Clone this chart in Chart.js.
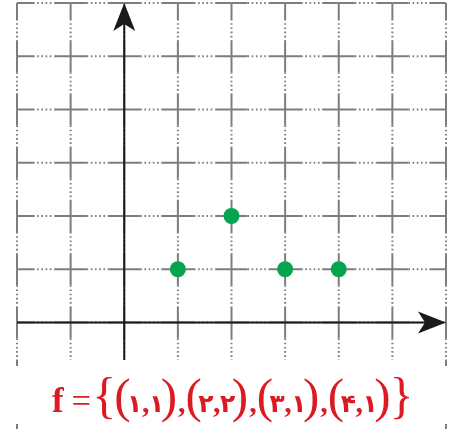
<!DOCTYPE html>
<html>
<head>
<meta charset="utf-8">
<script src="https://cdn.jsdelivr.net/npm/chart.js@4/dist/chart.umd.min.js"></script>
<style>
  html, body { margin: 0; padding: 0; background: #fff; }
  #wrap { position: relative; width: 451px; height: 430px; overflow: hidden; }
  #formula {
    position: absolute; left: 0; top: 366px; width: 451px; height: 58px;
    background: #fff; color: #dc1a22;
    font-family: "Liberation Serif", "DejaVu Serif", serif;
    white-space: nowrap; line-height: 58px;
  }
  #formula .row { position: absolute; left: 52px; top: 0; }
  #formula span { display: inline-block; vertical-align: baseline; }
  #formula .fn { font-size: 35px; font-weight: bold; }
  #formula .eq { font-size: 33px; margin-left: 8px; transform: scaleX(1.05); }
  #formula .br { font-size: 50px; margin-left: 2px; }
  #formula .br.close { margin-left: 1px; }
  #formula .pa { font-size: 49px; margin: 0 -2px; }
  #formula .dg { font-family: "DejaVu Sans", sans-serif; font-weight: bold; font-size: 25px; margin: 0 -1.5px; }
  #formula .cm { font-size: 30px; font-weight: bold; margin: 0 1px; }
  #formula .sep { margin: 0 2px 0 3px; }
</style>
</head>
<body>
<div id="wrap">
  <canvas id="c" width="451" height="430"></canvas>
  <div id="formula"><div class="row"></div></div>
</div>
<script>
// Ordered pairs of the function f
const xValues = [1, 2, 3, 4];
const yValues = [1, 2, 1, 1];

// Coordinate plane extent (one grid cell per unit)
const xRange = [-2, 6];
const yRange = [-2, 6];

const persianDigits = ['۰', '۱', '۲', '۳', '۴', '۵', '۶', '۷', '۸', '۹'];
const toPersian = n => String(n).split('').map(ch => persianDigits[+ch] ?? ch).join('');

// Formula line: f = {(x,y), ...}
(function buildFormula() {
  const el = document.querySelector('#formula .row');
  const span = (cls, txt) => `<span class="${cls}">${txt}</span>`;
  let html = span('fn', 'f') + span('eq', '=') + span('br', '{');
  xValues.forEach((x, i) => {
    if (i > 0) html += span('cm sep', ',');
    html += span('pa', '(') + span('dg', toPersian(x)) + span('cm', ',') +
            span('dg', toPersian(yValues[i])) + span('pa', ')');
  });
  html += span('br close', '}');
  el.innerHTML = html;
})();

// Grid with solid strokes near each crossing and dotted strokes between them,
// plus the two arrowed axes.
const planePlugin = {
  id: 'plane',
  beforeDatasetsDraw(chart) {
    const { ctx, chartArea: a, scales: { x, y } } = chart;
    const solid = 16;
    const gridColor = '#7d7d7d';
    const interiorBottom = 360;
    const dots = [1.6, 2.6];

    function segLine(x1, y1, x2, y2, dash) {
      if (x2 - x1 <= 0 && y2 - y1 <= 0) return;
      ctx.save();
      ctx.setLineDash(dash);
      ctx.beginPath();
      ctx.moveTo(x1, y1);
      ctx.lineTo(x2, y2);
      ctx.stroke();
      ctx.restore();
    }

    ctx.save();
    ctx.strokeStyle = gridColor;
    ctx.lineWidth = 2;

    const xs = [], ys = [];
    for (let v = xRange[0]; v <= xRange[1]; v++) xs.push(x.getPixelForValue(v));
    for (let v = yRange[0]; v <= yRange[1]; v++) ys.push(y.getPixelForValue(v));
    ys.sort((p, q) => p - q);

    // vertical lines
    xs.forEach((px, i) => {
      const edge = i === 0 || i === xs.length - 1;
      const bottom = edge ? a.bottom : interiorBottom;
      for (let j = 0; j < ys.length - 1; j++) {
        const y0 = ys[j];
        if (y0 >= bottom) break;
        const y1 = ys[j + 1];
        segLine(px, y0, px, Math.min(y0 + solid, bottom), []);
        segLine(px, y0 + solid, px, Math.min(y1 - solid, bottom), dots);
        if (y1 <= bottom) segLine(px, y1 - solid, px, y1, []);
        else if (y1 - solid < bottom) segLine(px, y1 - solid, px, bottom, []);
      }
    });

    // horizontal lines
    ys.forEach(py => {
      if (py > interiorBottom + 20) return;
      for (let j = 0; j < xs.length - 1; j++) {
        const x0 = xs[j], x1 = xs[j + 1];
        segLine(x0, py, x0 + solid, py, []);
        segLine(x0 + solid, py, x1 - solid, py, dots);
        segLine(x1 - solid, py, x1, py, []);
      }
    });

    // axes
    const ox = x.getPixelForValue(0);
    const oy = y.getPixelForValue(0);
    ctx.strokeStyle = '#1a1a1a';
    ctx.fillStyle = '#1a1a1a';
    ctx.lineWidth = 2;
    ctx.setLineDash([]);
    ctx.beginPath();
    ctx.moveTo(a.left, oy);
    ctx.lineTo(a.right - 16, oy);
    ctx.moveTo(ox, interiorBottom);
    ctx.lineTo(ox, a.top + 16);
    ctx.stroke();

    // arrowheads
    const len = 28, half = 11, notch = 7;
    ctx.beginPath();
    ctx.moveTo(a.right, oy);
    ctx.lineTo(a.right - len, oy - half);
    ctx.lineTo(a.right - len + notch, oy);
    ctx.lineTo(a.right - len, oy + half);
    ctx.closePath();
    ctx.fill();
    ctx.beginPath();
    ctx.moveTo(ox, a.top);
    ctx.lineTo(ox - half, a.top + len);
    ctx.lineTo(ox, a.top + len - notch);
    ctx.lineTo(ox + half, a.top + len);
    ctx.closePath();
    ctx.fill();
    ctx.restore();
  }
};

new Chart(document.getElementById('c'), {
  type: 'scatter',
  data: {
    datasets: [{
      data: xValues.map((v, i) => ({ x: v, y: yValues[i] })),
      backgroundColor: '#05a550',
      borderWidth: 0,
      pointRadius: 8,
      pointHoverRadius: 8,
      clip: false
    }]
  },
  options: {
    responsive: false,
    animation: false,
    events: [],
    layout: { autoPadding: false, padding: { left: 17, right: 5, top: 3, bottom: 1 } },
    plugins: { legend: { display: false }, tooltip: { enabled: false } },
    scales: {
      x: { type: 'linear', min: xRange[0], max: xRange[1], display: false },
      y: { type: 'linear', min: yRange[0], max: yRange[1], display: false }
    }
  },
  plugins: [planePlugin]
});
</script>
</body>
</html>
